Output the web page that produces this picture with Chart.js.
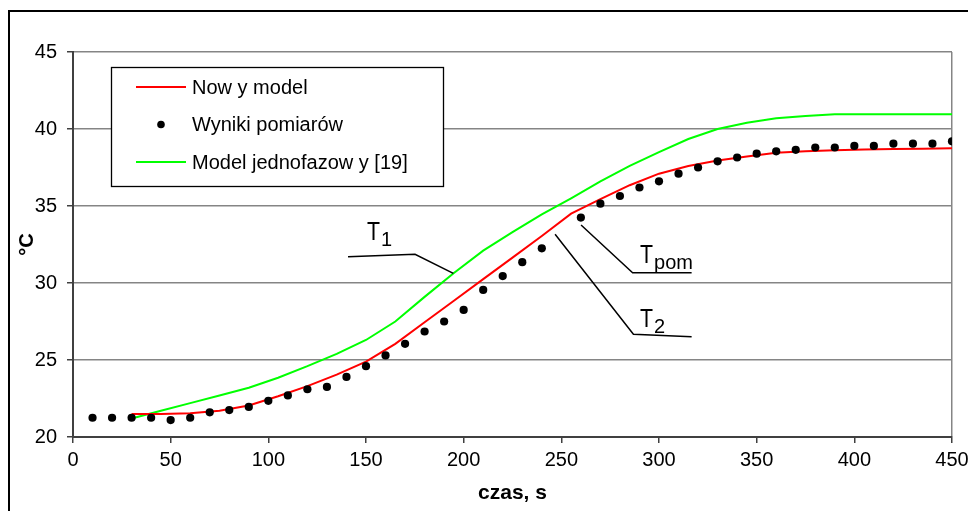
<!DOCTYPE html>
<html>
<head>
<meta charset="utf-8">
<script src="https://cdn.jsdelivr.net/npm/chart.js@4/dist/chart.umd.min.js"></script>
<style>
  html, body { margin: 0; padding: 0; background: #fff; }
  canvas { display: block; }
</style>
</head>
<body>
<canvas id="chart" width="968" height="511"></canvas>
<script>
// measured points (every 10 s, no reading at 250 s)
const dotTimes = [10, 20, 30, 40, 50, 60, 70, 80, 90, 100, 110, 120, 130, 140, 150, 160, 170, 180, 190, 200,
  210, 220, 230, 240, 260, 270, 280, 290, 300, 310, 320, 330, 340, 350, 360, 370, 380, 390, 400, 410,
  420, 430, 440, 450];
const dotValues = [21.25, 21.25, 21.25, 21.25, 21.1, 21.25, 21.6, 21.75, 21.95, 22.35, 22.7, 23.1, 23.25, 23.9,
  24.6, 25.3, 26.05, 26.85, 27.5, 28.25, 29.55, 30.45, 31.35, 32.25, 34.25, 35.15, 35.65, 36.2, 36.6,
  37.1, 37.5, 37.9, 38.15, 38.4, 38.55, 38.65, 38.8, 38.8, 38.9, 38.9, 39.05, 39.05, 39.05, 39.2];

// model curves
const modelTimes = [30, 45, 60, 75, 90, 105, 120, 135, 150, 165, 180, 195, 210, 225, 240, 255, 270, 285, 300,
  315, 330, 345, 360, 375, 390, 405, 420, 435, 450];
const newModelValues = [21.5, 21.5, 21.55, 21.7, 22.05, 22.65, 23.3, 24.05, 24.9, 26.05, 27.45, 28.85, 30.25,
  31.65, 33.05, 34.5, 35.45, 36.35, 37.1, 37.6, 37.95, 38.22, 38.45, 38.55, 38.62, 38.67, 38.7, 38.72, 38.75];
const onephaseValues = [21.2, 21.7, 22.2, 22.7, 23.2, 23.85, 24.6, 25.4, 26.3, 27.5, 29.1, 30.65, 32.1, 33.3,
  34.45, 35.5, 36.6, 37.6, 38.5, 39.35, 40.0, 40.4, 40.7, 40.85, 40.95, 40.95, 40.95, 40.95, 40.95];

const seriesLabels = ['Now y model', 'Wyniki pomiarów', 'Model jednofazow y [19]'];
const xTicks = [0, 50, 100, 150, 200, 250, 300, 350, 400, 450];
const yTicks = [20, 25, 30, 35, 40, 45];

// callouts: label anchor and leader line in data units
const callouts = [
  { main: 'T', sub: '1', at: [150.5, 32.79], line: [[140.8, 31.71], [175.1, 31.86], [194.7, 30.63]] },
  { main: 'T', sub: 'pom', at: [290.3, 31.3], line: [[260.1, 33.77], [286.5, 30.67], [316.7, 30.67]] },
  { main: 'T', sub: '2', at: [290.3, 27.14], line: [[246.8, 33.16], [286.9, 26.67], [316.7, 26.51]] }
];

const FONT = '"Liberation Sans", Arial, sans-serif';

function pts(xs, ys) {
  return xs.map((x, i) => ({ x: x, y: ys[i] }));
}

const frame = {
  id: 'frame',
  beforeDraw(chart) {
    const ctx = chart.ctx;
    ctx.save();
    ctx.fillStyle = '#fff';
    ctx.fillRect(0, 0, chart.width, chart.height);
    ctx.strokeStyle = '#000';
    ctx.lineWidth = 2;
    ctx.strokeRect(9, 11, 1000, 600);
    ctx.restore();
  }
};

const boxLegend = {
  id: 'boxLegend',
  afterDraw(chart) {
    const ctx = chart.ctx;
    const left = 111, top = 67, right = 443, bottom = 186;
    ctx.save();
    ctx.fillStyle = '#fff';
    ctx.fillRect(left, top, right - left, bottom - top);
    ctx.strokeStyle = '#000';
    ctx.lineWidth = 1.3;
    ctx.strokeRect(left + 0.5, top + 0.5, right - left, bottom - top);
    ctx.font = '20px ' + FONT;
    ctx.textBaseline = 'middle';
    chart.data.datasets.forEach((ds, i) => {
      const y = 87 + i * 37.5;
      if (ds.showLine === false) {
        ctx.fillStyle = ds.pointBackgroundColor;
        ctx.beginPath();
        ctx.arc(161, y, 3.8, 0, Math.PI * 2);
        ctx.fill();
      } else {
        ctx.strokeStyle = ds.borderColor;
        ctx.lineWidth = 2;
        ctx.beginPath();
        ctx.moveTo(136, y);
        ctx.lineTo(186, y);
        ctx.stroke();
      }
      ctx.fillStyle = '#000';
      ctx.fillText(ds.label, 192, y + 1);
    });
    ctx.restore();
  }
};

const calloutPlugin = {
  id: 'callouts',
  afterDatasetsDraw(chart) {
    const ctx = chart.ctx;
    const xs = chart.scales.x, ys = chart.scales.y;
    ctx.save();
    ctx.strokeStyle = '#000';
    ctx.lineWidth = 1.5;
    ctx.fillStyle = '#000';
    callouts.forEach(c => {
      ctx.beginPath();
      c.line.forEach((p, i) => {
        const px = xs.getPixelForValue(p[0]), py = ys.getPixelForValue(p[1]);
        if (i === 0) ctx.moveTo(px, py); else ctx.lineTo(px, py);
      });
      ctx.stroke();
      const ax = xs.getPixelForValue(c.at[0]), ay = ys.getPixelForValue(c.at[1]);
      ctx.textBaseline = 'alphabetic';
      ctx.font = '26px ' + FONT;
      ctx.save();
      ctx.translate(ax, ay);
      ctx.scale(0.82, 1);
      ctx.fillText(c.main, 0, 0);
      ctx.restore();
      ctx.font = '20px ' + FONT;
      ctx.fillText(c.sub, ax + 14, ay + 6);
    });
    ctx.restore();
  }
};

new Chart(document.getElementById('chart'), {
  type: 'line',
  data: {
    datasets: [
      {
        label: seriesLabels[0],
        data: pts(modelTimes, newModelValues),
        borderColor: '#ff0000',
        borderWidth: 2,
        pointRadius: 0,
        tension: 0,
        order: 1
      },
      {
        label: seriesLabels[1],
        data: pts(dotTimes, dotValues),
        showLine: false,
        pointRadius: 4.1,
        pointBorderWidth: 0,
        pointBackgroundColor: '#000',
        pointBorderColor: '#000',
        order: 0
      },
      {
        label: seriesLabels[2],
        data: pts(modelTimes, onephaseValues),
        borderColor: '#00ff00',
        borderWidth: 2,
        pointRadius: 0,
        tension: 0,
        order: 2
      }
    ]
  },
  options: {
    responsive: false,
    animation: false,
    layout: { padding: { left: 0, top: 52, right: 16, bottom: 0 } },
    plugins: {
      legend: { display: false },
      tooltip: { enabled: false }
    },
    scales: {
      x: {
        type: 'linear',
        min: 0,
        max: 450,
        afterBuildTicks: s => { s.ticks = xTicks.map(v => ({ value: v })); },
        afterFit: s => { s.height = 74; s.paddingLeft = 0; s.paddingRight = 0; },
        ticks: { color: '#000', font: { family: FONT, size: 20 }, padding: 5, maxRotation: 0 },
        grid: {
          drawOnChartArea: true,
          color: c => (c.tick && c.tick.value === 450) ? '#858585' : 'rgba(0,0,0,0)',
          lineWidth: 1.5,
          tickColor: '#404040',
          tickLength: 6,
          tickWidth: 1.5
        },
        border: { color: '#404040', width: 2 },
        title: {
          display: true,
          text: 'czas, s',
          color: '#000',
          font: { family: FONT, size: 21, weight: 'bold' },
          padding: { top: 0, bottom: 5 }
        }
      },
      y: {
        min: 20,
        max: 45,
        afterBuildTicks: s => { s.ticks = yTicks.map(v => ({ value: v })); },
        afterFit: s => { s.width = 73; s.paddingTop = 0; s.paddingBottom = 0; },
        ticks: { color: '#000', font: { family: FONT, size: 20 }, padding: 10 },
        grid: {
          color: c => (c.tick && c.tick.value === 20) ? 'rgba(0,0,0,0)' : '#858585',
          lineWidth: 1.5,
          tickColor: '#404040',
          tickLength: 6,
          tickWidth: 1.5
        },
        border: { color: '#404040', width: 2 },
        title: {
          display: true,
          text: '°C',
          color: '#000',
          font: { family: FONT, size: 20, weight: 'bold' },
          padding: { top: 15, bottom: 0 }
        }
      }
    }
  },
  plugins: [frame, calloutPlugin, boxLegend]
});
</script>
</body>
</html>
